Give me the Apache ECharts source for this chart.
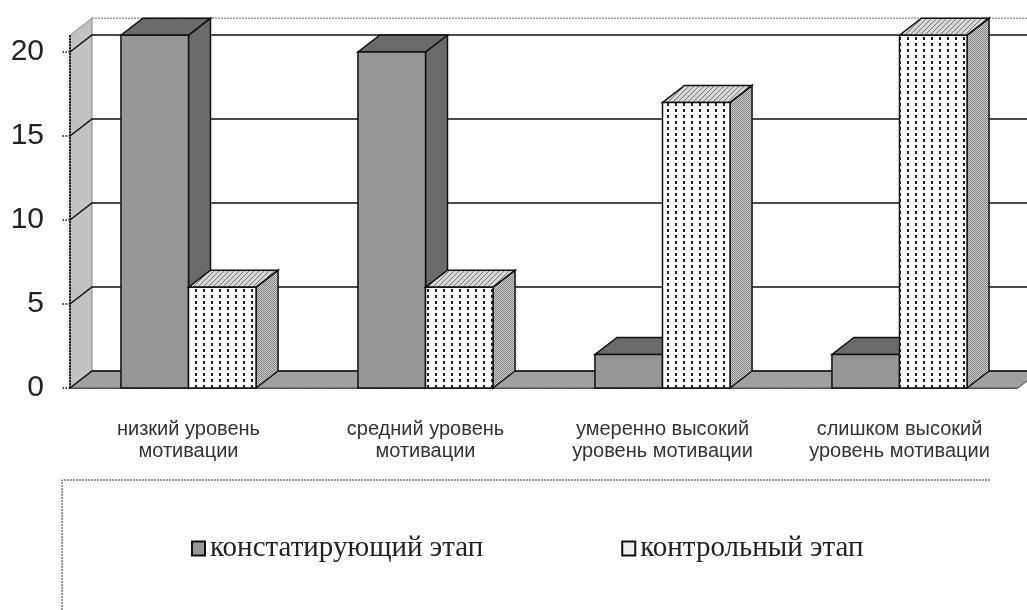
<!DOCTYPE html>
<html>
<head>
<meta charset="utf-8">
<script src="https://cdn.jsdelivr.net/npm/echarts@6/dist/echarts.min.js"></script>
<style>
  html, body { margin: 0; padding: 0; background: #fff; }
  #chart { width: 1027px; height: 610px; }
</style>
</head>
<body>
<div id="chart"></div>
<script>
const categories = [
  'низкий уровень\nмотивации',
  'средний уровень\nмотивации',
  'умеренно высокий\nуровень мотивации',
  'слишком высокий\nуровень мотивации'
];
const seriesNames = ['констатирующий этап', 'контрольный этап'];
const stageAscertaining = [21, 20, 2, 2];
const stageControl = [6, 6, 17, 21];
const yTicks = [0, 5, 10, 15, 20];
const wallTop = 21;

// depth of the fake 3d box
const DX = 22;
const DY = -17;

function makePattern(w, h, draw) {
  const c = document.createElement('canvas');
  c.width = w;
  c.height = h;
  draw(c.getContext('2d'));
  return { image: c, repeat: 'repeat' };
}

const dotFill = makePattern(8, 6, ctx => {
  ctx.fillStyle = '#fff';
  ctx.fillRect(0, 0, 8, 6);
  ctx.fillStyle = '#222';
  ctx.fillRect(3, 1, 2, 3);
});
const hatchFill = makePattern(5, 5, ctx => {
  ctx.fillStyle = '#d6d6d6';
  ctx.fillRect(0, 0, 5, 5);
  ctx.fillStyle = '#7a7a7a';
  for (let i = 0; i < 5; i++) ctx.fillRect(i, 4 - i, 1, 1);
});
const checkFill = makePattern(2, 2, ctx => {
  ctx.fillStyle = '#d0d0d0';
  ctx.fillRect(0, 0, 2, 2);
  ctx.fillStyle = '#808080';
  ctx.fillRect(0, 0, 1, 1);
  ctx.fillRect(1, 1, 1, 1);
});

const looks = [
  { front: '#979797', top: '#6a6a6a', side: '#6a6a6a' },
  { front: dotFill, top: hatchFill, side: checkFill }
];

const edge = { stroke: '#111', lineWidth: 1.5 };

function barRenderer(idx) {
  return function (params, api) {
    const cat = api.value(0);
    const val = api.value(1);
    const base = api.coord([cat, 0]);
    const peak = api.coord([cat, val]);
    const band = api.size([1, 0])[0];
    const w = band * 0.285;
    const x = base[0] - w + idx * w;
    const y0 = base[1];
    const y1 = peak[1];
    const look = looks[idx];
    return {
      type: 'group',
      children: [
        {
          type: 'polygon',
          shape: { points: [[x + w, y1], [x + w + DX, y1 + DY], [x + w + DX, y0 + DY], [x + w, y0]] },
          style: Object.assign({ fill: look.side }, edge)
        },
        {
          type: 'polygon',
          shape: { points: [[x, y1], [x + w, y1], [x + w + DX, y1 + DY], [x + DX, y1 + DY]] },
          style: Object.assign({ fill: look.top }, edge)
        },
        {
          type: 'rect',
          shape: { x: x, y: y1, width: w, height: y0 - y1 },
          style: Object.assign({ fill: look.front }, edge)
        }
      ]
    };
  };
}

function wallRenderer(params, api) {
  const cs = params.coordSys;
  const x0 = cs.x;
  const x1 = cs.x + cs.width;
  const y0 = api.coord([0, 0])[1];
  const yt = api.coord([0, wallTop])[1];
  const children = [
    {
      type: 'polygon',
      shape: { points: [[x0, yt], [x0 + DX, yt + DY], [x0 + DX, y0 + DY], [x0, y0]] },
      style: { fill: '#c2c2c2', stroke: '#888', lineWidth: 1 }
    },
    {
      type: 'polygon',
      shape: { points: [[x0, y0], [x0 + DX, y0 + DY], [x1 + DX, y0 + DY], [x1, y0]] },
      style: { fill: '#a0a0a0', stroke: '#444', lineWidth: 1 }
    },
    {
      type: 'line',
      shape: { x1: x0 + DX, y1: yt + DY, x2: x1 + DX, y2: yt + DY },
      style: { stroke: '#999', lineWidth: 1.5, lineDash: [2, 1] }
    }
  ];
  yTicks.forEach(v => {
    const y = api.coord([0, v])[1];
    children.push({
      type: 'polyline',
      shape: { points: [[x0, y], [x0 + DX, y + DY], [x1 + DX, y + DY]] },
      style: { stroke: '#111', lineWidth: 1.5, fill: null }
    });
  });
  children.push({
    type: 'line',
    shape: { x1: x0, y1: yt, x2: x0, y2: y0 },
    style: { stroke: '#111', lineWidth: 2, lineDash: [2, 1] }
  });
  return { type: 'group', children: children };
}

const chart = echarts.init(document.getElementById('chart'));

chart.setOption({
  animation: false,
  backgroundColor: '#fff',
  grid: { left: 70, right: 9, top: 52, bottom: 222, containLabel: false },
  xAxis: {
    type: 'category',
    data: categories,
    axisLine: { lineStyle: { color: '#111', width: 1.5, type: 'dotted' } },
    axisTick: { show: false },
    splitLine: { show: false },
    axisLabel: {
      interval: 0,
      hideOverlap: false,
      fontFamily: 'Liberation Sans, Arial, sans-serif',
      fontSize: 20,
      lineHeight: 22,
      color: '#333',
      margin: 30
    }
  },
  yAxis: {
    type: 'value',
    min: 0,
    max: 20,
    interval: 5,
    axisLine: { show: false },
    axisTick: { show: true, length: 8, lineStyle: { color: '#111', type: 'dotted', width: 1.5 } },
    splitLine: { show: false },
    axisLabel: {
      fontFamily: 'Liberation Sans, Arial, sans-serif',
      fontSize: 30,
      color: '#222',
      margin: 26
    }
  },
  legend: {
    left: 191,
    top: 534,
    padding: 0,
    itemWidth: 13,
    itemHeight: 14,
    itemGap: 138,
    textStyle: { fontFamily: 'Liberation Serif, Times New Roman, serif', fontSize: 29, color: '#222' },
    data: [
      { name: seriesNames[0], icon: 'rect', itemStyle: { color: '#979797', borderColor: '#111', borderWidth: 2 } },
      { name: seriesNames[1], icon: 'rect', itemStyle: { color: '#eee', borderColor: '#111', borderWidth: 2 } }
    ]
  },
  graphic: [
    {
      type: 'polyline',
      shape: { points: [[990, 480], [62, 480], [62, 610]] },
      style: { stroke: '#333', lineWidth: 1, lineDash: [2, 1], fill: null },
      silent: true
    }
  ],
  series: [
    {
      type: 'custom',
      name: 'wall',
      z: 1,
      renderItem: wallRenderer,
      data: [[0, 0]],
      silent: true
    },
    {
      type: 'custom',
      name: seriesNames[0],
      z: 2,
      itemStyle: { color: '#979797' },
      renderItem: barRenderer(0),
      encode: { x: 0, y: 1 },
      data: stageAscertaining.map((v, i) => [i, v])
    },
    {
      type: 'custom',
      name: seriesNames[1],
      z: 3,
      itemStyle: { color: '#eee' },
      renderItem: barRenderer(1),
      encode: { x: 0, y: 1 },
      data: stageControl.map((v, i) => [i, v])
    }
  ]
});
</script>
</body>
</html>
